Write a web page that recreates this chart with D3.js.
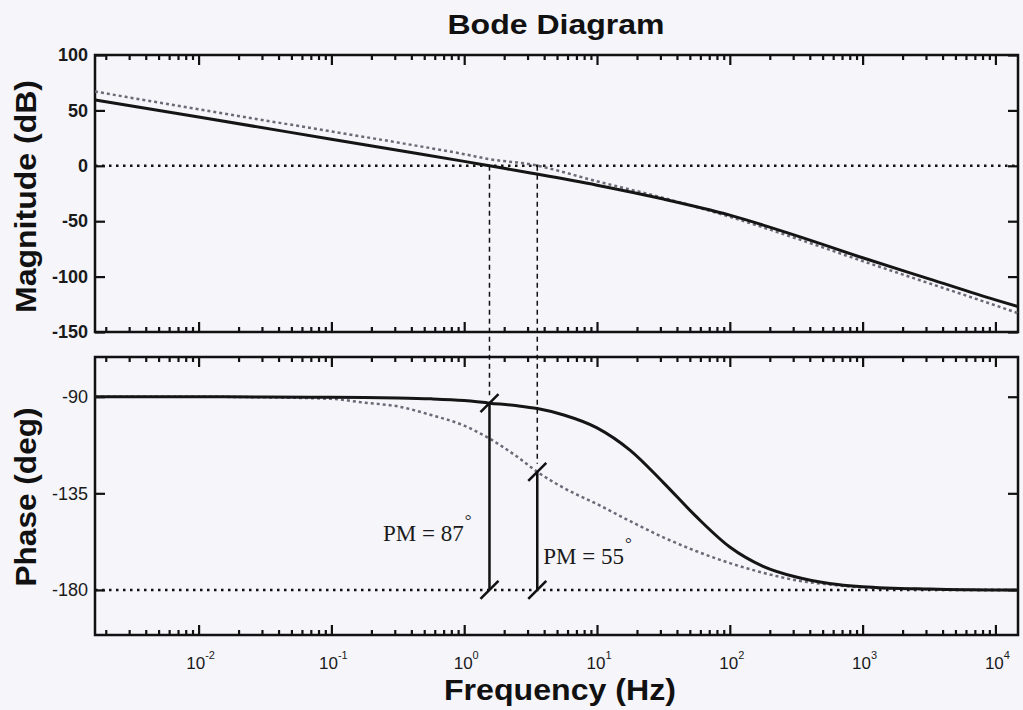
<!DOCTYPE html>
<html>
<head>
<meta charset="utf-8">
<script src="https://cdn.jsdelivr.net/npm/d3@7"></script>
<style>
  html, body { margin: 0; padding: 0; background: #f5f5fa; }
  svg { display: block; font-family: "Liberation Sans", Arial, sans-serif; }
</style>
</head>
<body>
<svg id="chart" width="1023" height="710"></svg>
<script>
// frequencies (Hz) used for the magnitude traces
const magFreq = [0.00166, 0.01, 0.1, 0.316, 1, 1.55, 3.16, 10, 31.6, 100, 316, 1000, 3162, 10000, 14800];
// solid = compensated loop, dotted = original loop
const magSolid  = [59.5, 44, 24, 14, 4, 0, -6.5, -17.5, -30, -44.5, -63, -83, -102, -121, -127];
const magDotted = [67, 51, 31, 21, 10.5, 6, 1.3, -14, -29, -46, -65.5, -86, -106, -126, -133];

// frequencies (Hz) used for the phase traces
const phFreq = [0.00166, 0.01, 0.0316, 0.1, 0.178, 0.316, 0.562, 1, 1.55, 2.51, 3.55, 5.62, 10,
                17.8, 31.6, 56.2, 100, 178, 316, 562, 1000, 3162, 10000, 14800];
const phSolid  = [-90, -90, -90.1, -90.3, -90.4, -90.6, -91, -91.8, -93, -94.2, -95.5, -98.5, -104.5,
                  -115, -130, -146, -160, -169, -174, -177, -178.5, -179.6, -180, -180];
const phDotted = [-90, -90, -90.3, -91, -92.8, -94.5, -98.5, -103.5, -109.5, -118, -125, -132.5, -140,
                  -148, -155.5, -162, -167.5, -172, -175.5, -177.5, -178.8, -179.7, -180, -180];

// gain crossover frequency and phase margin of each loop
const crossFreq = [1.55, 3.55];
const phaseMargin = [87, 55];

const magTicks = [100, 50, 0, -50, -100, -150];
const phTicks = [-90, -135, -180];
const decades = [0.01, 0.1, 1, 10, 100, 1000, 10000];

const svg = d3.select("#chart");
const left = 95, right = 1018;
const magTop = 55, magBot = 332, phTop = 357, phBot = 635;

const x = d3.scaleLog().domain([Math.pow(10, -2.78), Math.pow(10, 4.17)]).range([left, right]);
const yMag = d3.scaleLinear().domain([-150, 100]).range([magBot, magTop]);
const yPh = d3.scaleLinear().domain([-201, -71.5]).range([phBot, phTop]);

// minor / major tick values
let minor = [];
for (let e = -3; e <= 4; e++) {
  for (let m = 2; m <= 9; m++) {
    let v = m * Math.pow(10, e);
    if (v >= x.domain()[0] && v <= x.domain()[1]) minor.push(v);
  }
}

svg.append("defs").selectAll("clipPath")
  .data([["clipMag", magTop, magBot], ["clipPh", phTop, phBot]])
  .join("clipPath").attr("id", d => d[0])
  .append("rect").attr("x", left).attr("y", d => d[1])
  .attr("width", right - left).attr("height", d => d[2] - d[1]);

function frameAxes(g, y, yTop, yBot, ticks) {
  // frequency ticks, top and bottom, pointing inwards
  [[minor, 5], [decades, 10]].forEach(([vals, len]) => {
    g.append("g").attr("transform", `translate(0,${yTop})`)
      .call(d3.axisBottom(x).tickValues(vals).tickSizeInner(len).tickSizeOuter(0).tickFormat(""));
    g.append("g").attr("transform", `translate(0,${yBot})`)
      .call(d3.axisTop(x).tickValues(vals).tickSizeInner(len).tickSizeOuter(0).tickFormat(""));
  });
  g.append("g").attr("transform", `translate(${right},0)`)
    .call(d3.axisLeft(y).tickValues(ticks).tickSizeInner(10).tickSizeOuter(0).tickFormat(""));
  g.selectAll(".domain").remove();
  g.selectAll(".tick line").attr("stroke", "#111").attr("stroke-width", 2.2);
  g.append("rect").attr("x", left).attr("y", yTop)
    .attr("width", right - left).attr("height", yBot - yTop)
    .attr("fill", "none").attr("stroke", "#111").attr("stroke-width", 2.5);
}

// ---- magnitude panel
const gMag = svg.append("g");
frameAxes(gMag, yMag, magTop, magBot, magTicks);
const magLeft = gMag.append("g").attr("transform", `translate(${left},0)`)
  .call(d3.axisLeft(yMag).tickValues(magTicks).tickSizeInner(-10).tickSizeOuter(0).tickPadding(7)
    .tickFormat(d => String(d)));
magLeft.select(".domain").remove();
magLeft.selectAll(".tick line").attr("stroke", "#111").attr("stroke-width", 2.2);
magLeft.selectAll("text").attr("font-size", 18).attr("font-weight", "bold").attr("fill", "#1a1a1a")
  .attr("font-family", "Liberation Sans, Arial, sans-serif");

const magPlot = gMag.append("g").attr("clip-path", "url(#clipMag)");
magPlot.append("line").attr("x1", left).attr("x2", right)
  .attr("y1", yMag(0)).attr("y2", yMag(0))
  .attr("stroke", "#111").attr("stroke-width", 2.5).attr("stroke-dasharray", "2.5,4.5");

const lineMag = d3.line().x(d => x(d[0])).y(d => yMag(d[1])).curve(d3.curveMonotoneX);
magPlot.append("path").datum(d3.zip(magFreq, magDotted)).attr("d", lineMag)
  .attr("fill", "none").attr("stroke", "#6b6b78").attr("stroke-width", 2.5).attr("stroke-dasharray", "3,3");
magPlot.append("path").datum(d3.zip(magFreq, magSolid)).attr("d", lineMag)
  .attr("fill", "none").attr("stroke", "#151515").attr("stroke-width", 3);

// ---- phase panel
const gPh = svg.append("g");
frameAxes(gPh, yPh, phTop, phBot, phTicks);
const phLeft = gPh.append("g").attr("transform", `translate(${left},0)`)
  .call(d3.axisLeft(yPh).tickValues(phTicks).tickSizeInner(-10).tickSizeOuter(0).tickPadding(7)
    .tickFormat(d => String(d)));
phLeft.select(".domain").remove();
phLeft.selectAll(".tick line").attr("stroke", "#111").attr("stroke-width", 2.2);
phLeft.selectAll("text").attr("font-size", 18).attr("fill", "#1a1a1a")
  .attr("font-family", "Liberation Sans, Arial, sans-serif");

const phPlot = gPh.append("g").attr("clip-path", "url(#clipPh)");
phPlot.append("line").attr("x1", left).attr("x2", right)
  .attr("y1", yPh(-180)).attr("y2", yPh(-180))
  .attr("stroke", "#111").attr("stroke-width", 2.5).attr("stroke-dasharray", "2.5,4.5");

const linePh = d3.line().x(d => x(d[0])).y(d => yPh(d[1])).curve(d3.curveMonotoneX);
phPlot.append("path").datum(d3.zip(phFreq, phDotted)).attr("d", linePh)
  .attr("fill", "none").attr("stroke", "#6b6b78").attr("stroke-width", 2.5).attr("stroke-dasharray", "3,3");
phPlot.append("path").datum(d3.zip(phFreq, phSolid)).attr("d", linePh)
  .attr("fill", "none").attr("stroke", "#151515").attr("stroke-width", 3);

// frequency tick labels 10^n
const xLab = svg.append("g").attr("font-size", 17).attr("fill", "#1a1a1a");
decades.forEach(d => {
  const t = xLab.append("text").attr("x", x(d) + 2).attr("y", 669).attr("text-anchor", "middle");
  t.append("tspan").text("10");
  t.append("tspan").attr("dy", -10).attr("font-size", 11).text(Math.round(Math.log10(d)));
});

// ---- phase margin annotations
const marks = svg.append("g");
crossFreq.forEach((f, i) => {
  const px = x(f);
  const pPh = -180 + phaseMargin[i];
  // dashed guide from the 0 dB crossing down to the phase curve
  marks.append("line").attr("x1", px).attr("x2", px)
    .attr("y1", yMag(0)).attr("y2", yPh(pPh) - 8)
    .attr("stroke", "#111").attr("stroke-width", 1.5).attr("stroke-dasharray", "5,4");
  marks.append("line").attr("x1", px).attr("x2", px)
    .attr("y1", yPh(pPh)).attr("y2", yPh(-180))
    .attr("stroke", "#111").attr("stroke-width", 2.5);
  [pPh, -180].forEach(v => {
    marks.append("line")
      .attr("x1", px - 9).attr("y1", yPh(v) + 9)
      .attr("x2", px + 9).attr("y2", yPh(v) - 9)
      .attr("stroke", "#111").attr("stroke-width", 2.5);
  });
});

const pmLab = svg.append("g").attr("font-family", "Liberation Serif, Times New Roman, serif")
  .attr("font-size", 23).attr("fill", "#1a1a1a");
[[x(crossFreq[0]) - 18, -157, "end"], [x(crossFreq[1]) + 6, -168, "start"]].forEach((p, i) => {
  const t = pmLab.append("text").attr("x", p[0]).attr("y", yPh(p[1])).attr("text-anchor", p[2]);
  t.append("tspan").text(`PM = ${phaseMargin[i]}`);
  t.append("tspan").attr("dy", -15).attr("dx", 1).attr("font-size", 17).text("°");
});

// ---- titles
svg.append("text").attr("x", 556).attr("y", 34).attr("text-anchor", "middle")
  .attr("font-size", 27).attr("font-weight", "bold").attr("fill", "#111")
  .attr("textLength", 217).attr("lengthAdjust", "spacingAndGlyphs").text("Bode Diagram");

svg.append("text").attr("x", 560).attr("y", 700).attr("text-anchor", "middle")
  .attr("font-size", 29).attr("font-weight", "bold").attr("fill", "#111")
  .attr("textLength", 232).attr("lengthAdjust", "spacingAndGlyphs").text("Frequency (Hz)");

svg.append("text").attr("transform", `translate(36,${(magTop + magBot) / 2 + 3}) rotate(-90)`)
  .attr("text-anchor", "middle").attr("font-size", 29).attr("font-weight", "bold").attr("fill", "#111")
  .attr("textLength", 233).attr("lengthAdjust", "spacingAndGlyphs").text("Magnitude (dB)");

svg.append("text").attr("transform", `translate(36,${(phTop + phBot) / 2 + 1}) rotate(-90)`)
  .attr("text-anchor", "middle").attr("font-size", 29).attr("font-weight", "bold").attr("fill", "#111")
  .attr("textLength", 179).attr("lengthAdjust", "spacingAndGlyphs").text("Phase (deg)");
</script>
</body>
</html>
